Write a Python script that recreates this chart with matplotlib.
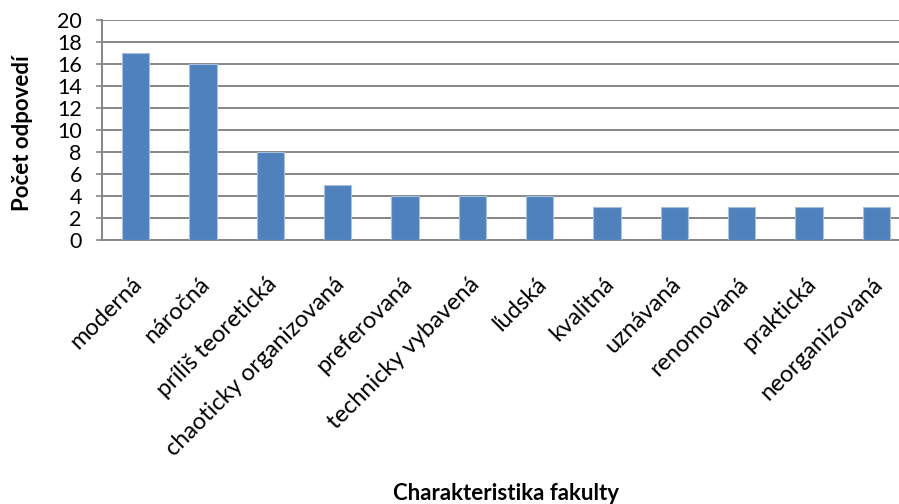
import numpy as np
import matplotlib.pyplot as plt
import matplotlib.transforms as mtransforms

plt.rcParams['font.family'] = ['Lato', 'DejaVu Sans']

# Data
categories = ['moderná', 'náročná', 'príliš teoretická', 'chaoticky organizovaná',
              'preferovaná', 'technicky vybavená', 'ľudská', 'kvalitná',
              'uznávaná', 'renomovaná', 'praktická', 'neorganizovaná']
counts = [17, 16, 8, 5, 4, 4, 4, 3, 3, 3, 3, 3]
yticks = list(range(0, 21, 2))

W, H = 899, 504
fig = plt.figure(figsize=(W / 100, H / 100), dpi=100)
# plot area runs a bit past the right edge, as in the reference
ax = fig.add_axes([102 / W, (H - 240) / H, 808 / W, 220 / H])

x = np.arange(len(categories))
ax.bar(x, counts, width=0.41, color='#4F81BD', edgecolor='#A7C0DE', linewidth=0.8, zorder=3)

ax.set_xlim(-0.5, len(categories) - 0.5)
ax.set_ylim(0, 20)
ax.set_yticks(yticks)
ax.yaxis.grid(True, color='#868686', linewidth=1.4, zorder=0)

for s in ['top', 'right']:
    ax.spines[s].set_visible(False)
for s in ['left', 'bottom']:
    ax.spines[s].set_color('#868686')
    ax.spines[s].set_linewidth(1.4)

ax.tick_params(axis='y', length=4.5, color='#868686', width=1.2, labelsize=15.5, pad=10)
ax.tick_params(axis='x', length=0, labelsize=17, pad=24)
ax.set_xticks(x)
ax.set_xticklabels(categories, rotation=45, ha='right', rotation_mode='anchor')

# nudge the rotated labels slightly left
shift = mtransforms.ScaledTranslation(-4 / 100, 0, fig.dpi_scale_trans)
for lbl in ax.get_xticklabels():
    lbl.set_transform(lbl.get_transform() + shift)

fig.text(23 / W, 1 - 133 / H, 'Počet odpovedí', fontsize=16, fontweight='bold',
         rotation=90, ha='center', va='center')
fig.text(506 / W, 1 - 494 / H, 'Charakteristika fakulty', fontsize=16,
         fontweight='bold', ha='center', va='center')

plt.savefig('out.png', dpi=100)
